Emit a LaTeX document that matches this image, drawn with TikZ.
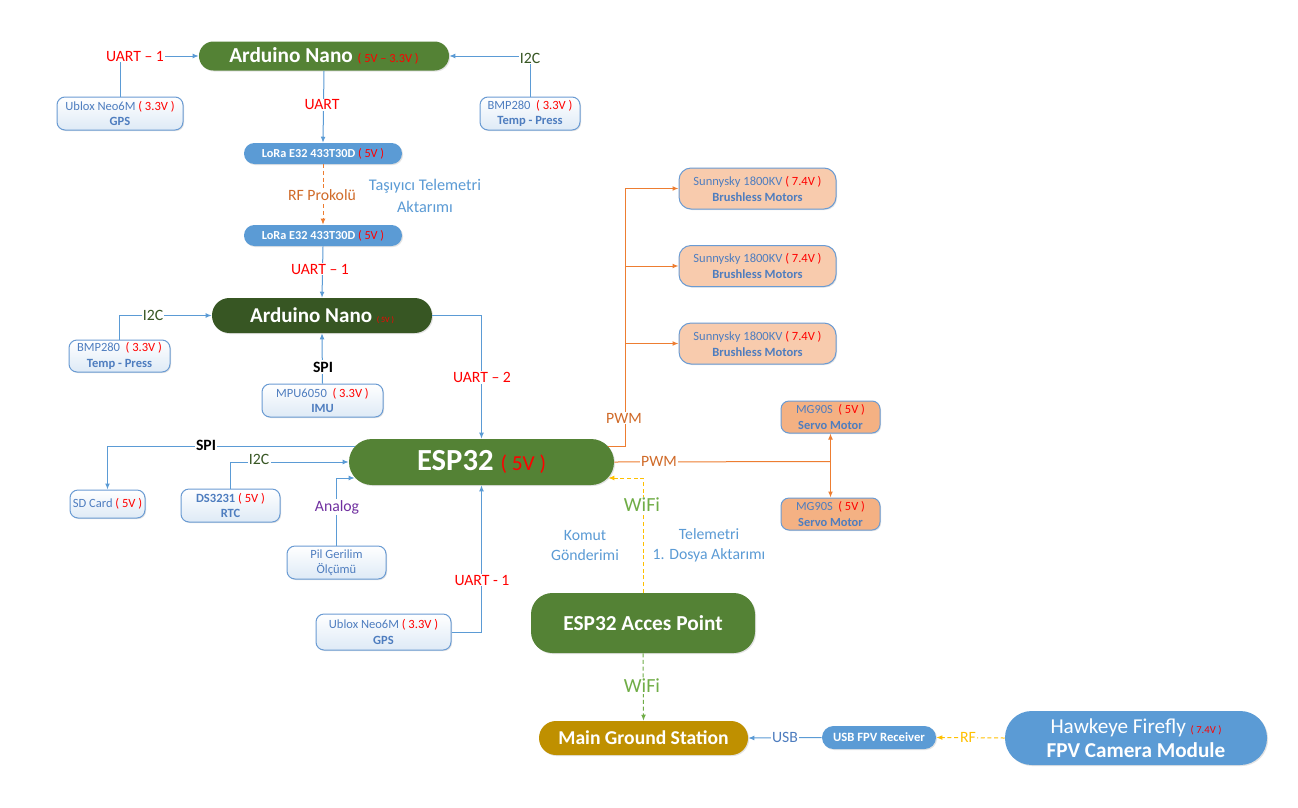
\documentclass[tikz,border=0pt]{standalone}
\usepackage{fontspec}
\setmainfont{Carlito}
\usetikzlibrary{arrows.meta,shadows,calc}
\definecolor{gA}{HTML}{548235}
\definecolor{gD}{HTML}{375623}
\definecolor{bF}{HTML}{5B9BD5}
\definecolor{bT}{HTML}{4E7DBF}
\definecolor{bB}{HTML}{6A9BD3}
\definecolor{bL}{HTML}{DEEAF6}
\definecolor{oL}{HTML}{ED7D31}
\definecolor{oT}{HTML}{D06A28}
\definecolor{peach}{HTML}{F8CBAD}
\definecolor{servo}{HTML}{F4B183}
\definecolor{gold}{HTML}{BF9000}
\definecolor{yel}{HTML}{FFC000}
\definecolor{wg}{HTML}{70AD47}
\definecolor{purp}{HTML}{7030A0}
\definecolor{rd}{HTML}{FF0000}
\newcommand{\rv}[2]{{\color{rd}\fontsize{#1}{#1}\selectfont #2}}
\begin{document}
\begin{tikzpicture}[x=0.75pt,y=-0.75pt,
  shd/.style={drop shadow={opacity=0.22,shadow xshift=0.8pt,shadow yshift=-0.8pt}},
  bignode/.style={shd,draw=none,text=white,inner sep=0pt,align=center},
  smallbox/.style={shd,draw=bB,line width=0.75pt,top color=white,bottom color=bL,text=bT,
     rounded corners=6pt,inner sep=0pt,align=center,font=\fontsize{9.4}{11.5}\selectfont},
  motorbox/.style={shd,draw=bB,line width=0.75pt,fill=peach,text=bT,
     rounded corners=9pt,inner sep=0pt,align=center,font=\fontsize{9.4}{12}\selectfont},
  servobox/.style={shd,draw=bB,line width=0.75pt,fill=servo,text=bT,
     rounded corners=6pt,inner sep=0pt,align=center,font=\fontsize{9.3}{11.5}\selectfont},
  lbl/.style={fill=white,inner sep=1pt,font=\fontsize{11.8}{14}\selectfont},
  bl/.style={draw=bF,line width=0.75pt},
  orl/.style={draw=oL,line width=0.75pt},
  arr/.style={-{Latex[length=4.5pt,width=3.6pt]}},
  dsh/.style={dash pattern=on 3pt off 2pt}
]
\useasboundingbox[fill=white] (0,0) rectangle (1298,807);

% ---------- nodes ----------
\node[bignode,fill=gA,minimum width=187.5pt,minimum height=21.75pt,rounded corners=10.8pt] (nano1) at (324,56)
  {\fontsize{16}{18}\selectfont\bfseries Arduino Nano \rv{9.3}{\mdseries( 5V – 3.3V )}};
\node[smallbox,minimum width=94.5pt,minimum height=24.75pt] (gps1) at (120,113.5)
  {Ublox Neo6M \textcolor{rd}{( 3.3V )}\\\textbf{GPS}};
\node[smallbox,minimum width=75pt,minimum height=24.75pt] (bmp1) at (530,113.5)
  {BMP280 \ \textcolor{rd}{( 3.3V )}\\\textbf{Temp - Press}};
\node[bignode,fill=bF,minimum width=118.5pt,minimum height=15.75pt,rounded corners=7.8pt] (lora1) at (323,153.5)
  {\fontsize{9.2}{11}\selectfont\bfseries LoRa E32 433T30D \textcolor{rd}{\mdseries( 5V )}};
\node[bignode,fill=bF,minimum width=118.5pt,minimum height=15.75pt,rounded corners=7.8pt] (lora2) at (323,235.5)
  {\fontsize{9.2}{11}\selectfont\bfseries LoRa E32 433T30D \textcolor{rd}{\mdseries( 5V )}};
\node[bignode,fill=gD,minimum width=165pt,minimum height=26.25pt,rounded corners=13pt] (nano2) at (322,315.5)
  {\fontsize{15.8}{18}\selectfont\bfseries Arduino Nano \rv{6}{\mdseries( 5V )}};
\node[smallbox,minimum width=75.75pt,minimum height=24pt] (bmp2) at (119.5,356)
  {BMP280 \ \textcolor{rd}{( 3.3V )}\\\textbf{Temp - Press}};
\node[smallbox,minimum width=90.75pt,minimum height=24.75pt] (mpu) at (322.5,400.5)
  {MPU6050 \ \textcolor{rd}{( 3.3V )}\\\textbf{IMU}};
\node[bignode,fill=gA,minimum width=198.75pt,minimum height=34.5pt,rounded corners=17.2pt] (esp) at (481.5,462)
  {\fontsize{23}{25}\selectfont\bfseries ESP32 \rv{16}{\mdseries( 5V )}};
\node[smallbox,minimum width=56.25pt,minimum height=21pt] (sd) at (107.5,504)
  {SD Card \textcolor{rd}{( 5V )}};
\node[smallbox,minimum width=74.25pt,minimum height=24.75pt] (ds) at (230.5,505.5)
  {\textbf{DS3231} \textcolor{rd}{( 5V )}\\\textbf{RTC}};
\node[smallbox,minimum width=74.25pt,minimum height=24.75pt] (pil) at (336.5,562.5)
  {Pil Gerilim\\Ölçümü};
\node[smallbox,minimum width=101.25pt,minimum height=27pt] (gps2) at (383.5,632)
  {Ublox Neo6M \textcolor{rd}{( 3.3V )}\\\textbf{GPS}};
\node[motorbox,minimum width=117.75pt,minimum height=30.75pt] (m1) at (757.5,188.5)
  {Sunnysky 1800KV \textcolor{rd}{( 7.4V )}\\\textbf{Brushless Motors}};
\node[motorbox,minimum width=117.75pt,minimum height=30.75pt] (m2) at (757.5,266)
  {Sunnysky 1800KV \textcolor{rd}{( 7.4V )}\\\textbf{Brushless Motors}};
\node[motorbox,minimum width=117.75pt,minimum height=30.75pt] (m3) at (757.5,343.5)
  {Sunnysky 1800KV \textcolor{rd}{( 7.4V )}\\\textbf{Brushless Motors}};
\node[servobox,minimum width=74.25pt,minimum height=24pt] (s1) at (830.5,417)
  {MG90S \ \textcolor{rd}{( 5V )}\\\textbf{Servo Motor}};
\node[servobox,minimum width=74.25pt,minimum height=24pt] (s2) at (830.5,514)
  {MG90S \ \textcolor{rd}{( 5V )}\\\textbf{Servo Motor}};
\node[bignode,fill=gA,minimum width=168pt,minimum height=45pt,rounded corners=16pt] (ap) at (643,623)
  {\fontsize{16}{18}\selectfont\bfseries ESP32 Acces Point};
\node[bignode,fill=gold,minimum width=156.75pt,minimum height=25.5pt,rounded corners=12.7pt] (mgs) at (643.5,738)
  {\fontsize{14.7}{17}\selectfont\bfseries Main Ground Station};
\node[bignode,fill=bF,minimum width=85.5pt,minimum height=17.25pt,rounded corners=8.6pt] (rx) at (879,737.5)
  {\fontsize{9.5}{11}\selectfont\bfseries USB FPV Receiver};
\node[bignode,fill=bF,minimum width=196.5pt,minimum height=40.5pt,rounded corners=20pt] (cam) at (1136,738)
  {\fontsize{15.9}{19}\selectfont Hawkeye Firefly \rv{8}{( 7.4V )}\\[3pt]\fontsize{15.9}{19}\selectfont\bfseries FPV Camera Module};

% ---------- connectors ----------
\draw[bl,arr] (gps1.north) |- (nano1.west);
\node[lbl,text=rd] (lu1) at (135,56) {UART – 1};
\draw[bl,arr] (bmp1.north) |- (nano1.east);
\node[lbl,text=gD] (li1) at (530,58) {I2C};
\draw[bl,arr] (nano1.south) -- (lora1.north);
\node[lbl,text=rd] (lu) at (322,105) {UART};
\draw[orl,arr,dsh] (lora1.south) -- (lora2.north);
\node[lbl,text=oT] (lrf) at (322,195) {RF Prokolü};
\node[align=center,text=bF,font=\fontsize{12.2}{16}\selectfont] (ltas) at (425,196) {Taşıyıcı Telemetri\\Aktarımı};
\draw[bl,arr] (lora2.south) -- (nano2.north);
\node[lbl,text=rd] (lu2) at (320,269) {UART – 1};
\draw[bl,arr] (bmp2.north) |- (nano2.west);
\node[lbl,text=gD] (li2) at (153,315) {I2C};
\draw[bl,arr] (mpu.north) -- (nano2.south);
\node[lbl,font=\fontsize{11.8}{14}\selectfont\bfseries] (lspi1) at (323,367) {SPI};
\draw[bl,arr] (nano2.east) -| (esp.north);
\node[lbl,text=rd] (lu3) at (482,377) {UART – 2};

\draw[bl,arr] ($(esp.west)+(6,-16)$) -| (sd.north);
\node[lbl,font=\fontsize{11.8}{14}\selectfont\bfseries] (lspi2) at (206,445) {SPI};
\draw[bl,arr] (ds.north) |- (esp.west);
\node[lbl,text=gD] (li3) at (259,459) {I2C};
\draw[bl,arr] (pil.north) |- ($(esp.west)+(6,16)$);
\node[lbl,text=purp] (lan) at (337,507) {Analog};
\draw[bl,arr] (gps2.east) -| (esp.south);
\node[lbl,text=rd] (lu4) at (482,580) {UART - 1};

\coordinate (pbus) at (625,266);
\draw[orl,arr] ($(esp.east)+(-6,-16)$) -| (pbus) |- (m1.west);
\draw[orl,arr] (pbus) -- (m2.west);
\draw[orl,arr] (pbus |- m3.west) -- (m3.west);
\node[lbl,text=oT] (lpwm1) at (624,418) {PWM};
\coordinate (sj) at (830.5,461.5);
\draw[orl] (esp.east) -- (sj);
\draw[orl,arr] (sj) -- (s1.south);
\draw[orl,arr] (sj) -- (s2.north);
\node[lbl,text=oT] (lpwm2) at (659,461) {PWM};

\draw[draw=yel,line width=0.75pt,dsh,arr] (ap.north) |- ($(esp.east)+(-6,16)$);
\node[lbl,text=wg,font=\fontsize{15}{17}\selectfont] (lwifi1) at (642,505) {WiFi};
\node[align=center,text=bF,font=\fontsize{11.8}{15}\selectfont] (lkom) at (585,545) {Komut\\Gönderimi};
\node[align=center,text=bF,font=\fontsize{11.8}{15}\selectfont] (ltel) at (709,545) {Telemetri\\1. Dosya Aktarımı};

\draw[draw=wg,line width=0.75pt,dsh,arr] (ap.south) -- (mgs.north);
\node[lbl,text=wg,font=\fontsize{15}{17}\selectfont] (lwifi2) at (642,686) {WiFi};
\draw[bl,arr] (rx.west) -- (mgs.east);
\node[lbl,text=bT] (lusb) at (785,737) {USB};
\draw[draw=yel,line width=0.75pt,dsh,arr] (cam.west) -- (rx.east);
\node[lbl,text=yel] (lrf2) at (968,737) {RF};
\end{tikzpicture}
\end{document}
